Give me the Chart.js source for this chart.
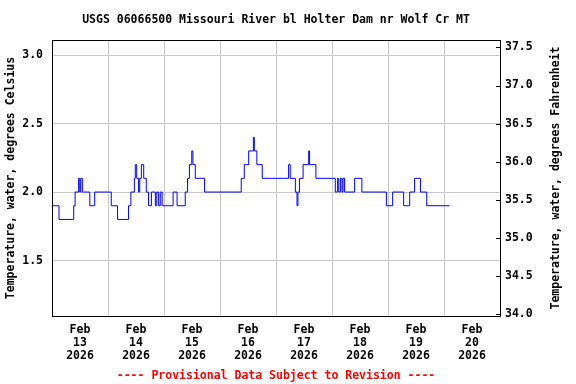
<!DOCTYPE html>
<html>
<head>
<meta charset="utf-8">
<script src="https://cdn.jsdelivr.net/npm/chart.js"></script>
<style>
  html, body { margin: 0; padding: 0; background: #fff; }
</style>
</head>
<body>
<canvas id="myChart" width="576" height="384"></canvas>
<script>
// station / labels
const chartTitle = "USGS 06066500 Missouri River bl Holter Dam nr Wolf Cr MT";
const footerText = "---- Provisional Data Subject to Revision ----";
const leftTitle = "Temperature, water, degrees Celsius";
const rightTitle = "Temperature, water, degrees Fahrenheit";

// x axis: hours since Feb 13 2026 00:00, one label per day
const monthLabel = "Feb";
const yearLabel = "2026";
const dayLabels = ["13", "14", "15", "16", "17", "18", "19", "20"];

// tick labels
const celsiusTicks = [1.5, 2.0, 2.5, 3.0];
const fahrenheitTicks = [34.0, 34.5, 35.0, 35.5, 36.0, 36.5, 37.0, 37.5];

// readings (hour where the value changes, new value in deg C)
const hours = [0, 3.0, 9.3, 9.9, 11.4, 11.9, 12.3, 13.0, 16.2, 18.3,
  25.4, 28.1, 32.8, 33.8, 35.3, 35.7, 36.3, 37.1, 37.6, 38.3,
  39.3, 40.4, 41.4, 42.6, 44.3, 44.9, 45.7, 46.4, 47.2, 51.9,
  53.6, 57.1, 58.1, 58.9, 59.9, 60.4, 61.4, 65.4, 81.1, 82.4,
  84.3, 86.3, 86.7, 87.8, 90.1, 101.4, 102.1, 104.3, 105.0, 105.4,
  106.1, 107.6, 110.0, 110.4, 113.1, 121.4, 122.4, 122.9, 123.6, 124.3,
  124.7, 125.4, 129.7, 132.8, 143.3, 146.0, 150.7, 153.3, 155.4, 157.9,
  160.6, 170.4];
const tempC = [1.9, 1.8, 1.9, 2.0, 2.1, 2.0, 2.1, 2.0, 1.9, 2.0,
  1.9, 1.8, 1.9, 2.0, 2.1, 2.2, 2.1, 2.0, 2.1, 2.2,
  2.1, 2.0, 1.9, 2.0, 1.9, 2.0, 1.9, 2.0, 1.9, 2.0,
  1.9, 2.0, 2.1, 2.2, 2.3, 2.2, 2.1, 2.0, 2.1, 2.2,
  2.3, 2.4, 2.3, 2.2, 2.1, 2.2, 2.1, 2.0, 1.9, 2.0,
  2.1, 2.2, 2.3, 2.2, 2.1, 2.0, 2.1, 2.0, 2.1, 2.0,
  2.1, 2.0, 2.1, 2.0, 1.9, 2.0, 1.9, 2.0, 2.1, 2.0,
  1.9, 1.9];

const yMinC = 1.095;
const yMaxC = 3.11;
const toF = (c) => c * 1.8 + 32;

const monoFont = { family: "'DejaVu Sans Mono', monospace", size: 11.5, weight: "bold" };

// frame round the plot, inward ticks on the right, right title read upward
const extras = {
  id: "extras",
  afterDraw(chart) {
    const ctx = chart.ctx;
    const a = chart.chartArea;
    ctx.save();
    ctx.strokeStyle = "#000";
    ctx.lineWidth = 1;
    ctx.strokeRect(Math.round(a.left) + 0.5, Math.round(a.top) + 0.5,
      Math.round(a.right - a.left), Math.round(a.bottom - a.top));

    const y2 = chart.scales.y2;
    y2.ticks.forEach((t) => {
      const py = Math.round(y2.getPixelForValue(t.value)) + 0.5;
      ctx.beginPath();
      ctx.moveTo(a.right - 4, py);
      ctx.lineTo(a.right, py);
      ctx.stroke();
    });

    ctx.fillStyle = "#000";
    ctx.font = "bold 11.5px 'DejaVu Sans Mono', monospace";
    ctx.textAlign = "center";
    ctx.textBaseline = "middle";
    ctx.translate(556, (a.top + a.bottom) / 2);
    ctx.rotate(-Math.PI / 2);
    ctx.fillText(rightTitle, 0, 0);
    ctx.restore();
  }
};

const points = hours.map((h, i) => ({ x: h, y: tempC[i] }));

new Chart(document.getElementById("myChart"), {
  type: "line",
  data: {
    datasets: [{
      data: points,
      stepped: "before",
      borderColor: "#0000ff",
      borderWidth: 1,
      pointRadius: 0,
      fill: false,
      yAxisID: "y"
    }]
  },
  options: {
    responsive: false,
    animation: false,
    devicePixelRatio: 1,
    layout: { padding: 0 },
    plugins: {
      legend: { display: false },
      tooltip: { enabled: false },
      title: {
        display: true,
        text: chartTitle,
        color: "#000",
        fullSize: false,
        font: monoFont,
        padding: { top: 13.1, bottom: 13.1 }
      },
      subtitle: {
        display: true,
        position: "bottom",
        text: footerText,
        color: "#ff0000",
        fullSize: false,
        font: monoFont,
        padding: { top: 4, bottom: 1.1 }
      }
    },
    scales: {
      x: {
        type: "linear",
        position: "bottom",
        min: 0,
        max: 192,
        afterBuildTicks: (scale) => {
          const t = [];
          for (let v = 0; v <= 192; v += 12) t.push({ value: v });
          scale.ticks = t;
        },
        afterFit: (scale) => { scale.height = 49.1; },
        grid: {
          color: (c) => (c.tick && c.tick.value % 24 === 0) ? "#c8c8c8" : "rgba(0,0,0,0)",
          drawTicks: false
        },
        border: { display: true, color: "#000" },
        ticks: {
          autoSkip: false,
          maxRotation: 0,
          minRotation: 0,
          padding: 7.4,
          color: "#000",
          font: Object.assign({}, monoFont, { lineHeight: 1.15 }),
          callback: (v) => {
            if (v % 24 !== 12) return "";
            const d = dayLabels[(v - 12) / 24];
            return [monthLabel, d, yearLabel];
          }
        }
      },
      y: {
        type: "linear",
        position: "left",
        min: yMinC,
        max: yMaxC,
        afterBuildTicks: (scale) => {
          scale.ticks = celsiusTicks.map((v) => ({ value: v }));
        },
        afterFit: (scale) => { scale.width = 52; },
        grid: { color: "#c8c8c8", drawTicks: false },
        border: { display: true, color: "#000" },
        ticks: {
          padding: 9,
          color: "#000",
          font: monoFont,
          callback: (v) => v.toFixed(1)
        },
        title: {
          display: true,
          text: leftTitle,
          color: "#000",
          font: monoFont,
          padding: { top: 4, bottom: 0 }
        }
      },
      y2: {
        type: "linear",
        position: "right",
        min: toF(yMinC),
        max: toF(yMaxC),
        afterBuildTicks: (scale) => {
          scale.ticks = fahrenheitTicks.map((v) => ({ value: v }));
        },
        afterFit: (scale) => { scale.width = 76; },
        grid: { drawOnChartArea: false, drawTicks: false },
        border: { display: true, color: "#000" },
        ticks: {
          padding: 5,
          color: "#000",
          font: monoFont,
          callback: (v) => v.toFixed(1)
        }
      }
    }
  },
  plugins: [extras]
});
</script>
</body>
</html>
